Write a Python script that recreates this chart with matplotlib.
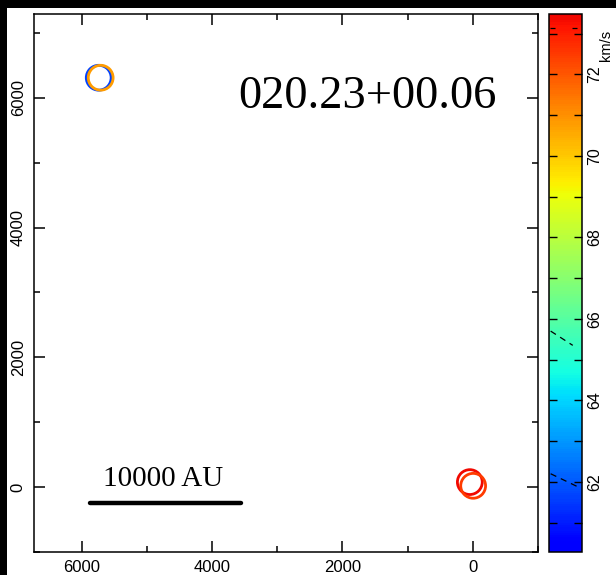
import numpy as np
import matplotlib
matplotlib.use("Agg")
import matplotlib.pyplot as plt
from matplotlib.colors import LinearSegmentedColormap, Normalize
from matplotlib.patches import Rectangle
from matplotlib.ticker import MultipleLocator

# maser spots: offsets (x, y) and line-of-sight velocity (km/s)
spot_x = [5740, 5710, 46, -5]
spot_y = [6308, 6308, 77, 20]
spot_v = [61.6, 70.8, 73.4, 72.5]

vmin, vmax = 60.28, 73.48
source_name = "020.23+00.06"
scale_label = "10000 AU"
scale_x = [5874, 3558]
scale_y = [-246, -246]

xticks = [6000, 4000, 2000, 0]
yticks = [0, 2000, 4000, 6000]
cticks = [62, 64, 66, 68, 70, 72]

# jet without the dark ends
base = plt.get_cmap("jet")
cmap = LinearSegmentedColormap.from_list("jet_mid", base(np.linspace(0.11, 0.905, 256)))
norm = Normalize(vmin, vmax)

fig = plt.figure(figsize=(6.16, 5.75), dpi=100, facecolor="black")
fig.patches.append(Rectangle((7 / 616, 0), 1, (575 - 8) / 575, transform=fig.transFigure,
                             facecolor="white", edgecolor="none", zorder=-10))

ax = fig.add_axes([34 / 616, 23 / 575, 504 / 616, 538 / 575])
ax.set_xlim(6733, -1000)
ax.set_ylim(-1000, 7290)

ax.scatter(spot_x, spot_y, s=320, facecolors="none", edgecolors=cmap(norm(spot_v)),
           linewidths=2.0, zorder=3)

ax.plot(scale_x, scale_y, color="black", lw=3.2, solid_capstyle="round")
ax.text(np.mean(scale_x) + 30, scale_y[0] + 170, scale_label, ha="center", va="bottom",
        fontsize=21, family="Liberation Serif")
ax.text(0.661, 0.846, source_name, transform=ax.transAxes, ha="center", va="center",
        fontsize=33.5, family="Liberation Serif")

ax.set_xticks(xticks)
ax.set_yticks(yticks)
ax.xaxis.set_minor_locator(MultipleLocator(1000))
ax.yaxis.set_minor_locator(MultipleLocator(1000))
ax.tick_params(which="both", direction="in", top=True, right=True, width=1.1)
ax.tick_params(which="major", length=8, labelsize=12, pad=6)
ax.tick_params(which="minor", length=4)
for lab in ax.get_xticklabels() + ax.get_yticklabels():
    lab.set_family("Liberation Sans")
for lab in ax.get_yticklabels():
    lab.set_rotation(90)
    lab.set_va("center")
for sp in ax.spines.values():
    sp.set_linewidth(1.1)

cax = fig.add_axes([549 / 616, 23 / 575, 33 / 616, 538 / 575])
sm = matplotlib.cm.ScalarMappable(norm=norm, cmap=cmap)
cb = fig.colorbar(sm, cax=cax)
cb.set_ticks(cticks)
cax.yaxis.set_minor_locator(MultipleLocator(1))
cax.tick_params(which="both", direction="in", left=True, right=True, length=6, width=1.0,
                labelsize=11.5, pad=4)
for lab in cax.get_yticklabels():
    lab.set_rotation(90)
    lab.set_va("center")
    lab.set_family("Liberation Sans")
cb.outline.set_linewidth(1.1)

# contour level markers across the bar
cax.plot([0.02, 0.3], [73.14, 73.14], color="black", lw=0.9, ls=(0, (4, 4)))
cax.plot([0.7, 0.98], [73.14, 73.14], color="black", lw=0.9, ls=(0, (4, 4)))
cax.plot([0.05, 0.72], [65.7, 65.35], color="black", lw=0.9, ls=(0, (5, 4)))
cax.plot([0.05, 0.95], [62.2, 61.85], color="black", lw=0.9, ls=(0, (5, 4)))

fig.text(606 / 616, 1 - 45 / 575, "km/s", rotation=90, ha="center", va="center",
         fontsize=10.5, family="Liberation Sans")

fig.savefig("out.png", dpi=100, facecolor=fig.get_facecolor())
